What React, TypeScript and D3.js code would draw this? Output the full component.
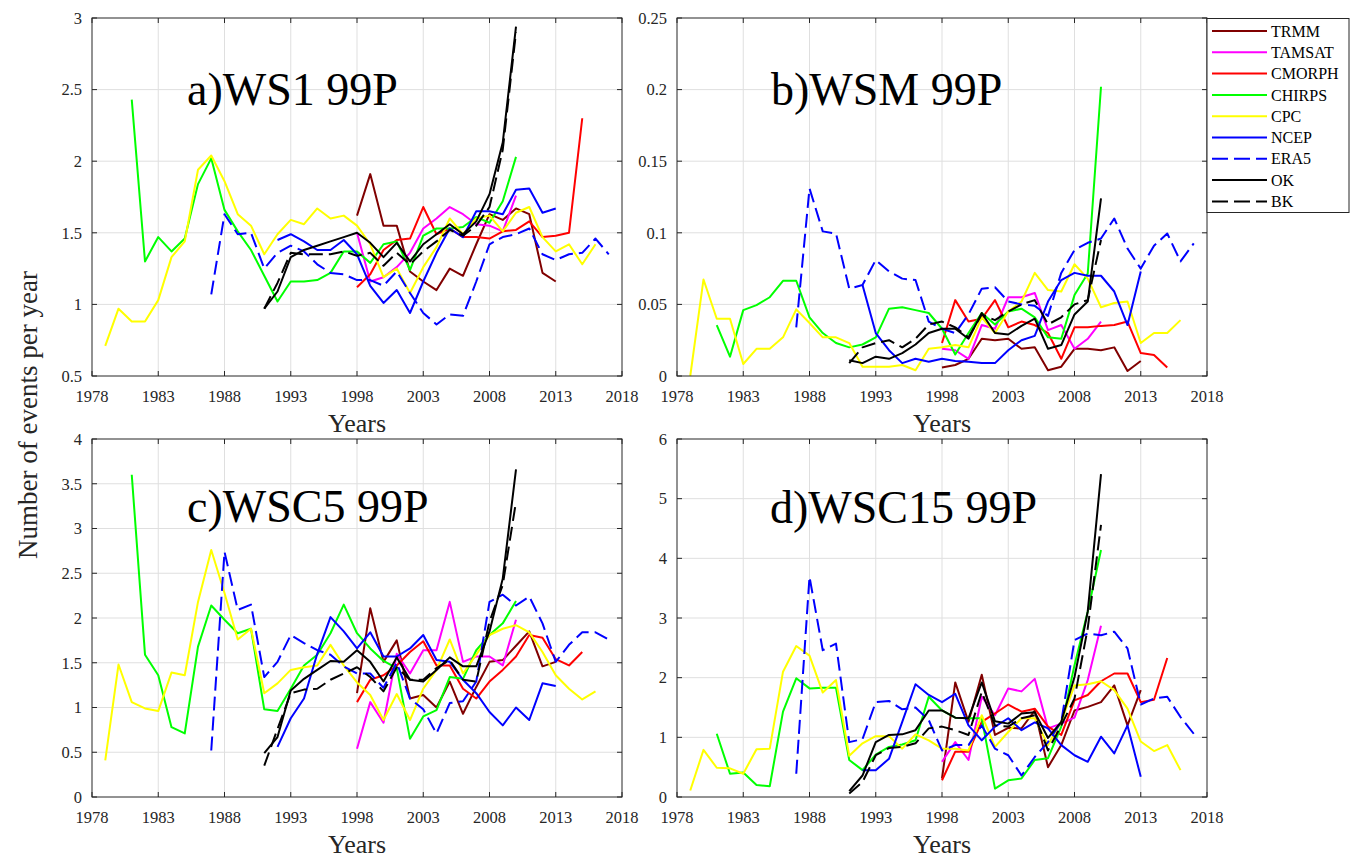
import React from "react";
import * as d3 from "d3";

// ---------- series meta ----------
const SERIES = ["TRMM", "TAMSAT", "CMORPH", "CHIRPS", "CPC", "NCEP", "ERA5", "OK", "BK"];
const COLORS = ["#800000", "#ff00ff", "#ff0000", "#00ff00", "#ffff00", "#0000ff", "#0000ff", "#000000", "#000000"];
const DASHED = [false, false, false, false, false, false, true, false, true];
const START_YEARS = [1998, 1998, 1998, 1981, 1979, 1992, 1987, 1991, 1991];

// ---------- x axis ----------
const X_DOMAIN = [1978, 2018];
const X_TICKS = [1978, 1983, 1988, 1993, 1998, 2003, 2008, 2013, 2018];

// ---------- panel a) WS1 99P ----------
const A_TRMM = [1.62, 1.91, 1.55, 1.55, 1.23, 1.16, 1.10, 1.25, 1.20, 1.42, 1.63, 1.59, 1.67, 1.63, 1.22, 1.16];
const A_TAMSAT = [1.50, 1.16, 1.19, 1.26, 1.36, 1.53, 1.60, 1.68, 1.63, 1.56, 1.55, 1.51, 1.76];
const A_CMORPH = [1.12, 1.21, 1.38, 1.45, 1.46, 1.68, 1.49, 1.53, 1.47, 1.47, 1.46, 1.51, 1.52, 1.58, 1.47, 1.48, 1.50, 2.30];
const A_CHIRPS = [2.43, 1.30, 1.47, 1.37, 1.46, 1.84, 2.02, 1.66, 1.51, 1.38, 1.20, 1.02, 1.16, 1.16, 1.17, 1.22, 1.37, 1.37, 1.29, 1.42, 1.44, 1.24, 1.48, 1.53, 1.53, 1.54, 1.61, 1.57, 1.72, 2.03];
const A_CPC = [0.71, 0.97, 0.88, 0.88, 1.03, 1.33, 1.44, 1.94, 2.04, 1.86, 1.63, 1.55, 1.35, 1.49, 1.59, 1.56, 1.67, 1.60, 1.62, 1.55, 1.42, 1.19, 1.25, 1.08, 1.26, 1.40, 1.60, 1.49, 1.60, 1.62, 1.51, 1.64, 1.68, 1.47, 1.37, 1.42, 1.28, 1.42];
const A_NCEP = [1.45, 1.49, 1.44, 1.38, 1.38, 1.45, 1.35, 1.13, 1.01, 1.10, 0.94, 1.16, 1.36, 1.53, 1.47, 1.65, 1.65, 1.63, 1.80, 1.81, 1.64, 1.67];
const A_ERA5 = [1.07, 1.63, 1.49, 1.50, 1.25, 1.36, 1.41, 1.37, 1.28, 1.22, 1.21, 1.17, 1.17, 1.13, 1.23, 1.08, 0.94, 0.86, 0.93, 0.92, 1.16, 1.42, 1.47, 1.49, 1.53, 1.35, 1.31, 1.35, 1.36, 1.46, 1.35];
const A_OK = [0.97, 1.09, 1.33, 1.38, 1.41, 1.44, 1.47, 1.50, 1.43, 1.33, 1.43, 1.30, 1.42, 1.49, 1.56, 1.49, 1.58, 1.77, 2.13, 2.94];
const A_BK = [0.97, 1.15, 1.36, 1.35, 1.35, 1.35, 1.37, 1.34, 1.36, 1.27, 1.36, 1.28, 1.37, 1.44, 1.52, 1.48, 1.55, 1.68, 2.08, 2.90];

// ---------- panel b) WSM 99P ----------
const B_TRMM = [0.006, 0.0077, 0.012, 0.026, 0.025, 0.026, 0.019, 0.020, 0.004, 0.0065, 0.019, 0.019, 0.018, 0.020, 0.0035, 0.0105];
const B_TAMSAT = [0.019, 0.018, 0.012, 0.0356, 0.033, 0.055, 0.055, 0.058, 0.032, 0.0356, 0.019, 0.026, 0.038];
const B_CMORPH = [0.023, 0.053, 0.038, 0.040, 0.053, 0.034, 0.038, 0.0356, 0.030, 0.012, 0.034, 0.034, 0.035, 0.0356, 0.038, 0.016, 0.0147, 0.006];
const B_CHIRPS = [0.0356, 0.0135, 0.046, 0.0495, 0.055, 0.0665, 0.0665, 0.041, 0.030, 0.023, 0.020, 0.022, 0.027, 0.047, 0.048, 0.046, 0.044, 0.033, 0.015, 0.030, 0.044, 0.036, 0.045, 0.047, 0.041, 0.027, 0.026, 0.0565, 0.0716, 0.202];
const B_CPC = [0, 0.0674, 0.040, 0.040, 0.0084, 0.019, 0.019, 0.027, 0.0465, 0.037, 0.027, 0.027, 0.023, 0.0065, 0.0065, 0.0065, 0.0077, 0.004, 0.019, 0.020, 0.0216, 0.020, 0.041, 0.030, 0.045, 0.052, 0.072, 0.060, 0.059, 0.078, 0.068, 0.048, 0.051, 0.052, 0.023, 0.030, 0.030, 0.039];
const B_NCEP = [0.0635, 0.030, 0.018, 0.009, 0.012, 0.010, 0.012, 0.0105, 0.010, 0.009, 0.009, 0.018, 0.025, 0.028, 0.052, 0.067, 0.072, 0.070, 0.070, 0.059, 0.0356, 0.073];
const B_ERA5 = [0.034, 0.131, 0.101, 0.0995, 0.061, 0.0635, 0.081, 0.073, 0.068, 0.067, 0.038, 0.033, 0.030, 0.043, 0.061, 0.062, 0.052, 0.050, 0.049, 0.042, 0.072, 0.088, 0.093, 0.096, 0.110, 0.089, 0.075, 0.091, 0.0995, 0.080, 0.0926];
const B_OK = [0.011, 0.009, 0.0135, 0.012, 0.016, 0.022, 0.030, 0.033, 0.033, 0.026, 0.044, 0.030, 0.029, 0.035, 0.040, 0.019, 0.0216, 0.043, 0.052, 0.124];
const B_BK = [0.009, 0.020, 0.023, 0.025, 0.020, 0.026, 0.036, 0.038, 0.034, 0.027, 0.043, 0.039, 0.045, 0.050, 0.053, 0.036, 0.041, 0.050, 0.053, 0.095];

// ---------- panel c) WSC5 99P ----------
const C_TRMM = [1.16, 2.11, 1.51, 1.75, 1.10, 1.14, 1.00, 1.29, 0.93, 1.23, 1.51, 1.53, 1.69, 1.85, 1.46, 1.51];
const C_TAMSAT = [0.54, 1.06, 0.83, 1.60, 1.38, 1.64, 1.64, 2.18, 1.51, 1.57, 1.57, 1.47, 1.98];
const C_CMORPH = [1.06, 1.31, 1.36, 1.47, 1.62, 1.74, 1.47, 1.47, 1.21, 1.10, 1.29, 1.42, 1.57, 1.81, 1.78, 1.54, 1.47, 1.62];
const C_CHIRPS = [3.60, 1.59, 1.36, 0.78, 0.71, 1.68, 2.14, 1.98, 1.83, 1.88, 0.98, 0.96, 1.21, 1.47, 1.59, 1.83, 2.15, 1.83, 1.66, 1.52, 1.44, 0.65, 0.90, 0.97, 1.34, 1.32, 1.64, 1.81, 1.94, 2.19];
const C_CPC = [0.41, 1.48, 1.06, 0.99, 0.96, 1.39, 1.36, 2.18, 2.76, 2.28, 1.76, 1.88, 1.16, 1.27, 1.42, 1.45, 1.47, 1.70, 1.47, 1.28, 1.14, 0.86, 1.15, 0.86, 1.21, 1.42, 1.76, 1.38, 1.59, 1.81, 1.88, 1.92, 1.84, 1.62, 1.36, 1.21, 1.09, 1.18];
const C_NCEP = [0.56, 0.88, 1.10, 1.60, 2.01, 1.85, 1.66, 1.84, 1.57, 1.57, 1.66, 1.81, 1.53, 1.51, 1.31, 1.16, 0.95, 0.80, 1.00, 0.86, 1.27, 1.24];
const C_ERA5 = [0.52, 2.74, 2.09, 2.15, 1.34, 1.51, 1.81, 1.72, 1.64, 1.59, 1.46, 1.38, 1.38, 1.22, 1.50, 1.10, 0.98, 0.71, 1.05, 1.07, 1.29, 2.18, 2.26, 2.14, 2.24, 1.94, 1.51, 1.70, 1.84, 1.84, 1.76];
const C_OK = [0.49, 0.67, 1.19, 1.32, 1.42, 1.52, 1.51, 1.64, 1.51, 1.29, 1.56, 1.31, 1.29, 1.42, 1.56, 1.46, 1.46, 1.85, 2.44, 3.66];
const C_BK = [0.35, 0.76, 1.16, 1.20, 1.21, 1.31, 1.38, 1.45, 1.34, 1.18, 1.45, 1.31, 1.31, 1.44, 1.53, 1.31, 1.29, 1.96, 2.37, 3.30];

// ---------- panel d) WSC15 99P ----------
const D_TRMM = [0.31, 1.92, 1.26, 2.05, 1.04, 1.16, 1.15, 1.45, 0.50, 0.87, 1.45, 1.51, 1.59, 1.87, 1.20, 1.79];
const D_TAMSAT = [0.59, 0.92, 0.62, 1.68, 1.37, 1.82, 1.77, 1.98, 1.15, 1.23, 1.33, 1.96, 2.87];
const D_CMORPH = [0.28, 0.76, 0.76, 1.26, 1.40, 1.55, 1.43, 1.48, 1.18, 1.04, 1.62, 1.71, 1.94, 2.07, 2.07, 1.59, 1.63, 2.33];
const D_CHIRPS = [1.06, 0.39, 0.41, 0.20, 0.18, 1.43, 1.99, 1.82, 1.83, 1.83, 0.62, 0.45, 0.71, 0.84, 0.88, 0.95, 1.68, 1.45, 1.33, 1.32, 1.32, 0.14, 0.28, 0.31, 0.62, 0.65, 1.18, 2.21, 3.11, 4.14];
const D_CPC = [0.11, 0.79, 0.49, 0.48, 0.39, 0.80, 0.81, 2.10, 2.53, 2.37, 1.75, 1.96, 0.69, 0.90, 1.02, 1.02, 0.81, 1.05, 0.95, 0.81, 0.81, 0.78, 1.37, 0.84, 1.09, 1.32, 1.32, 0.87, 1.26, 1.87, 1.89, 1.94, 1.79, 1.48, 0.93, 0.77, 0.87, 0.45];
const D_NCEP = [0.45, 0.45, 0.64, 1.26, 1.89, 1.71, 1.59, 1.73, 1.20, 0.95, 1.18, 1.32, 1.12, 1.25, 1.15, 0.87, 0.70, 0.59, 1.01, 0.73, 1.20, 0.34];
const D_ERA5 = [0.39, 3.69, 2.46, 2.57, 0.92, 0.97, 1.59, 1.61, 1.47, 1.50, 1.29, 0.78, 0.87, 0.87, 1.20, 0.81, 0.70, 0.36, 0.67, 0.92, 1.26, 2.63, 2.74, 2.71, 2.77, 2.49, 1.55, 1.65, 1.68, 1.34, 1.06];
const D_OK = [0.10, 0.36, 0.92, 1.04, 1.05, 1.12, 1.45, 1.45, 1.33, 1.32, 1.92, 1.27, 1.23, 1.40, 1.42, 0.99, 1.26, 2.01, 3.11, 5.41];
const D_BK = [0.06, 0.25, 0.70, 0.82, 0.84, 0.90, 1.15, 1.18, 1.12, 1.04, 1.76, 1.20, 1.18, 1.32, 1.37, 0.78, 1.20, 1.65, 2.83, 4.56];

// ---------- y ticks ----------
const A_YTICKS = [0.5, 1, 1.5, 2, 2.5, 3];
const B_YTICKS = [0, 0.05, 0.1, 0.15, 0.2, 0.25];
const C_YTICKS = [0, 0.5, 1, 1.5, 2, 2.5, 3, 3.5, 4];
const D_YTICKS = [0, 1, 2, 3, 4, 5, 6];

const TITLES = ["a)WS1 99P", "b)WSM 99P", "c)WSC5 99P", "d)WSC15 99P"];

const PANELS = [
  { title: TITLES[0], yTicks: A_YTICKS, data: [A_TRMM, A_TAMSAT, A_CMORPH, A_CHIRPS, A_CPC, A_NCEP, A_ERA5, A_OK, A_BK], box: [92, 622, 18, 376], tx: 187, ty: 105 },
  { title: TITLES[1], yTicks: B_YTICKS, data: [B_TRMM, B_TAMSAT, B_CMORPH, B_CHIRPS, B_CPC, B_NCEP, B_ERA5, B_OK, B_BK], box: [677, 1207, 18, 376], tx: 771, ty: 105 },
  { title: TITLES[2], yTicks: C_YTICKS, data: [C_TRMM, C_TAMSAT, C_CMORPH, C_CHIRPS, C_CPC, C_NCEP, C_ERA5, C_OK, C_BK], box: [92, 622, 439, 797], tx: 187, ty: 522 },
  { title: TITLES[3], yTicks: D_YTICKS, data: [D_TRMM, D_TAMSAT, D_CMORPH, D_CHIRPS, D_CPC, D_NCEP, D_ERA5, D_OK, D_BK], box: [677, 1207, 439, 797], tx: 770, ty: 523 },
];

const FONT = "'Liberation Serif', 'Times New Roman', serif";
const AXIS = "#262626";
const GRID = "#dfdfdf";
const DASH = "14,6";

function Panel({ p }: { p: any }) {
  const [x0, x1, y0, y1] = p.box;
  const x = d3.scaleLinear().domain(X_DOMAIN).range([x0, x1]);
  const yt = p.yTicks as number[];
  const y = d3.scaleLinear().domain([yt[0], yt[yt.length - 1]]).range([y1, y0]);
  const line = d3
    .line<[number, number]>()
    .x((d) => x(d[0]))
    .y((d) => y(d[1]));
  const tl = 5;
  return (
    <g>
      {X_TICKS.slice(1, -1).map((t) => (
        <line key={"gx" + t} x1={x(t)} x2={x(t)} y1={y0} y2={y1} stroke={GRID} strokeWidth={1} />
      ))}
      {yt.slice(1, -1).map((t) => (
        <line key={"gy" + t} x1={x0} x2={x1} y1={y(t)} y2={y(t)} stroke={GRID} strokeWidth={1} />
      ))}
      {(p.data as number[][]).map((vals, i) => {
        const pts: [number, number][] = vals.map((v, k) => [START_YEARS[i] + k, v]);
        return (
          <path
            key={SERIES[i]}
            d={line(pts) || ""}
            fill="none"
            stroke={COLORS[i]}
            strokeWidth={2}
            strokeLinejoin="round"
            strokeDasharray={DASHED[i] ? DASH : undefined}
          />
        );
      })}
      <rect x={x0} y={y0} width={x1 - x0} height={y1 - y0} fill="none" stroke={AXIS} strokeWidth={1} />
      {X_TICKS.map((t) => (
        <g key={"tx" + t}>
          <line x1={x(t)} x2={x(t)} y1={y1} y2={y1 - tl} stroke={AXIS} />
          <line x1={x(t)} x2={x(t)} y1={y0} y2={y0 + tl} stroke={AXIS} />
          <text x={x(t)} y={y1 + 26} textAnchor="middle" fontFamily={FONT} fontSize={16.5} fill={AXIS}>
            {t}
          </text>
        </g>
      ))}
      {yt.map((t) => (
        <g key={"ty" + t}>
          <line x1={x0} x2={x0 + tl} y1={y(t)} y2={y(t)} stroke={AXIS} />
          <line x1={x1} x2={x1 - tl} y1={y(t)} y2={y(t)} stroke={AXIS} />
          <text x={x0 - 10} y={y(t)} dy="0.35em" textAnchor="end" fontFamily={FONT} fontSize={16.5} fill={AXIS}>
            {String(t)}
          </text>
        </g>
      ))}
      <text x={(x0 + x1) / 2} y={y1 + 56} textAnchor="middle" fontFamily={FONT} fontSize={26} fill={AXIS}>
        Years
      </text>
      <text x={p.tx} y={p.ty} fontFamily={FONT} fontSize={46} fill="#000">
        {p.title}
      </text>
    </g>
  );
}

function Legend() {
  const lx = 1207;
  const ly = 18.5;
  const step = 21.3;
  return (
    <g>
      <rect x={lx} y={ly} width={142} height={194} fill="#fff" stroke={AXIS} strokeWidth={1} />
      {SERIES.map((s, i) => {
        const yy = 31 + i * step;
        return (
          <g key={s}>
            <line x1={1212} x2={1267} y1={yy} y2={yy} stroke={COLORS[i]} strokeWidth={2} strokeDasharray={DASHED[i] ? "16,6" : undefined} />
            <text x={1271} y={yy} dy="0.35em" fontFamily={FONT} fontSize={16} fill="#000">
              {s}
            </text>
          </g>
        );
      })}
    </g>
  );
}

export default function App() {
  return (
    <svg width={1355} height={862} style={{ position: "absolute", left: 0, top: 0, background: "#fff" }}>
      <rect x={0} y={0} width={1355} height={862} fill="#fff" />
      {PANELS.map((p, i) => (
        <Panel key={i} p={p} />
      ))}
      <text
        transform="translate(37,415) rotate(-90)"
        textAnchor="middle"
        fontFamily={FONT}
        fontSize={27}
        fill={AXIS}
      >
        Number of events per year
      </text>
      <Legend />
    </svg>
  );
}
